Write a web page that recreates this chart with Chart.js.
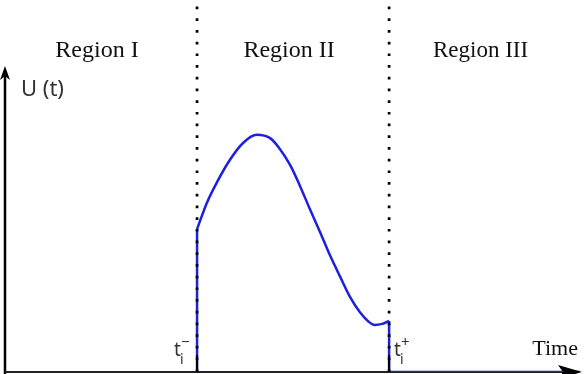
<!DOCTYPE html>
<html>
<head>
<meta charset="utf-8">
<script src="https://cdn.jsdelivr.net/npm/chart.js@4.4.1/dist/chart.umd.min.js"></script>
<style>
    body { margin: 0; background: #fff; }
    #wrap { width: 586px; height: 374px; position: relative; }
</style>
</head>
<body>
<div id="wrap"><canvas id="chart"></canvas></div>
<script>
// time axis runs 0..10, U(t) axis 0..10 (arbitrary units, no ticks shown)
const timeMax = 10;
const uMax = 10;
const tMinus = 3.34; // t_i^-
const tPlus = 6.68;  // t_i^+
const dotTop = 9.92;

// U(t) inside region II
const curveT = [3.34, 3.51, 3.69, 3.91, 4.14, 4.38, 4.61, 4.78, 4.96, 5.13, 5.30, 5.48, 5.65, 5.83, 6.00, 6.17, 6.31, 6.43, 6.56, 6.68];
const curveU = [3.86, 4.57, 5.14, 5.73, 6.19, 6.41, 6.32, 6.03, 5.59, 5.03, 4.41, 3.78, 3.16, 2.57, 2.03, 1.62, 1.38, 1.27, 1.30, 1.38];

const regionLabels = ["Region I", "Region II", "Region III"];
const regionFonts = ["24px 'Liberation Serif'", "24px 'Liberation Serif'", "23px 'Liberation Serif'"];
const yLabel = "U (t)";
const xLabel = "Time";

const blue = "#1f1fe0";
const pts = (xs, ys) => xs.map((x, i) => ({ x: x, y: ys[i] }));

const axesPlugin = {
    id: "axes",
    beforeDatasetsDraw(chart) {
        const { ctx, scales: { x, y } } = chart;
        const x0 = x.getPixelForValue(0);
        const y0 = y.getPixelForValue(0);
        ctx.save();
        ctx.strokeStyle = "#000";
        ctx.lineWidth = 2.5;
        ctx.beginPath();
        ctx.moveTo(x0, chart.height);
        ctx.lineTo(x0, 72);
        ctx.stroke();
        ctx.lineWidth = 2;
        ctx.strokeStyle = "#222";
        ctx.beginPath();
        ctx.moveTo(x0, y0);
        ctx.lineTo(x.getPixelForValue(timeMax) - 4, y0);
        ctx.stroke();
        ctx.restore();
    },
    afterDatasetsDraw(chart) {
        const { ctx, scales: { x, y } } = chart;
        const x0 = x.getPixelForValue(0);
        const y0 = y.getPixelForValue(0);
        const xEnd = x.getPixelForValue(timeMax);
        ctx.save();
        ctx.fillStyle = "#000";
        // y arrow
        ctx.beginPath();
        ctx.moveTo(x0, 66);
        ctx.lineTo(x0 + 5, 80);
        ctx.lineTo(x0, 76);
        ctx.lineTo(x0 - 5, 80);
        ctx.closePath();
        ctx.fill();
        // x arrow
        ctx.beginPath();
        ctx.moveTo(xEnd + 2, y0);
        ctx.lineTo(xEnd - 22, y0 - 7);
        ctx.lineTo(xEnd - 17, y0);
        ctx.lineTo(xEnd - 22, y0 + 7);
        ctx.closePath();
        ctx.fill();

        // short black ticks at the boundaries
        ctx.strokeStyle = "#000";
        ctx.lineWidth = 2;
        [tMinus, tPlus].forEach(t => {
            const px = x.getPixelForValue(t);
            ctx.beginPath();
            ctx.moveTo(px, y0 - 17);
            ctx.lineTo(px, y0);
            ctx.stroke();
        });

        // region titles, centred between boundaries
        const bounds = [0, tMinus, tPlus, timeMax];
        ctx.fillStyle = "#111";
        ctx.textAlign = "center";
        ctx.textBaseline = "alphabetic";
        regionLabels.forEach((lab, i) => {
            ctx.font = regionFonts[i];
            const cx = (x.getPixelForValue(bounds[i]) + x.getPixelForValue(bounds[i + 1])) / 2;
            ctx.fillText(lab, cx - 4, 57);
        });

        ctx.font = "22px 'Liberation Serif'";
        ctx.textAlign = "right";
        ctx.fillText(xLabel, xEnd - 2, 355);

        ctx.fillStyle = "#333";
        ctx.textAlign = "left";
        ctx.font = "22px 'Noto Sans'";
        ctx.fillText(yLabel, x0 + 16, 96);

        // t_i^- and t_i^+
        const tLabel = (px, sup) => {
            ctx.font = "19px 'Noto Sans'";
            ctx.fillText("t", px, 356);
            ctx.font = "14px 'Noto Sans'";
            ctx.fillText("i", px + 6, 364);
            ctx.font = "15px 'Noto Sans'";
            ctx.fillText(sup, px + 7, 347);
        };
        tLabel(x.getPixelForValue(tMinus) - 23, "\u2212");
        tLabel(x.getPixelForValue(tPlus) + 5, "+");
        ctx.restore();
    }
};

const dotted = t => ({
    data: [{ x: t, y: 0 }, { x: t, y: dotTop }],
    borderColor: "#000",
    borderWidth: 2.7,
    borderDash: [2.7, 9],
    pointRadius: 0,
    tension: 0
});

new Chart(document.getElementById("chart"), {
    type: "line",
    data: {
        datasets: [
            dotted(tMinus),
            dotted(tPlus),
            {
                data: [{ x: tMinus, y: 0 }, { x: tMinus, y: curveU[0] }],
                borderColor: blue, borderWidth: 2.5, pointRadius: 0, tension: 0
            },
            {
                data: pts(curveT, curveU),
                borderColor: blue, borderWidth: 2.5, pointRadius: 0,
                cubicInterpolationMode: "monotone"
            },
            {
                data: [{ x: tPlus, y: curveU[curveU.length - 1] }, { x: tPlus, y: 0 }, { x: timeMax, y: 0 }],
                borderColor: blue, borderWidth: 2.5, pointRadius: 0, tension: 0
            }
        ]
    },
    options: {
        responsive: true,
        maintainAspectRatio: false,
        animation: false,
        layout: { padding: { left: 5, right: 6, top: 2, bottom: 2 } },
        plugins: { legend: { display: false }, tooltip: { enabled: false } },
        scales: {
            x: { type: "linear", min: 0, max: timeMax, display: false },
            y: { type: "linear", min: 0, max: uMax, display: false }
        }
    },
    plugins: [axesPlugin]
});
</script>
</body>
</html>
